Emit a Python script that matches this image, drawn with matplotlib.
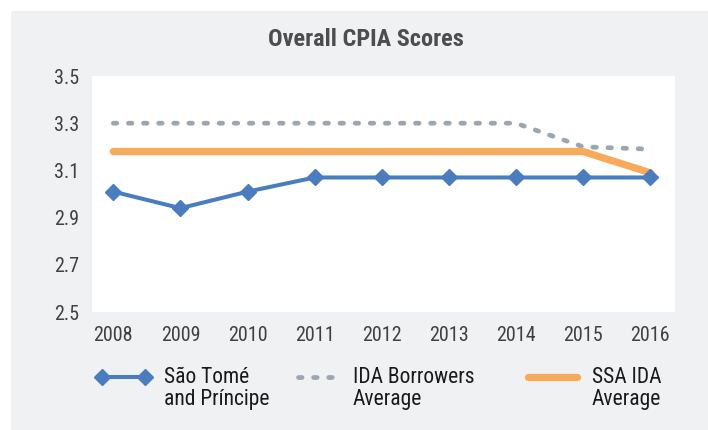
import matplotlib
matplotlib.use('Agg')
import matplotlib.pyplot as plt
from matplotlib.lines import Line2D
from matplotlib.patches import Rectangle

FONT = ['Roboto Condensed', 'Roboto', 'DejaVu Sans']
plt.rcParams['font.family'] = FONT

years = [2008, 2009, 2010, 2011, 2012, 2013, 2014, 2015, 2016]
stp = [3.01, 2.94, 3.01, 3.07, 3.07, 3.07, 3.07, 3.07, 3.07]
ida_borrowers = [3.30, 3.30, 3.30, 3.30, 3.30, 3.30, 3.30, 3.20, 3.19]
ssa_ida = [3.18, 3.18, 3.18, 3.18, 3.18, 3.18, 3.18, 3.18, 3.09]
yticks = [2.5, 2.7, 2.9, 3.1, 3.3, 3.5]

BLUE = '#4a7cc0'
GREY = '#9ba6b1'
ORANGE = '#f9a95a'
PANEL = '#f0f1f3'

W, H = 708, 430
fig = plt.figure(figsize=(W / 100, H / 100), dpi=100, facecolor='white')

# grey panel behind everything
fig.patches.append(Rectangle((11 / W, 0), 1 - 11 / W, 1 - 11 / H, transform=fig.transFigure,
                             facecolor=PANEL, edgecolor='none', zorder=-10))

ax = fig.add_axes([91.7 / W, 1 - 312 / H, (675 - 91.7) / W, (312 - 76) / H])
ax.set_facecolor('white')

ax.plot(years, ida_borrowers, color=GREY, lw=3.4, linestyle=(0, (0.75, 2.45)),
        dash_capstyle='round', zorder=2)
ax.plot(years, ssa_ida, color=ORANGE, lw=5.2, solid_capstyle='round', zorder=3)
ax.plot(years, stp, color=BLUE, lw=2.9, marker='D', markersize=7.8, zorder=4)

ax.set_xlim(2007.678, 2016.37)
ax.set_ylim(2.5, 3.5)
ax.set_xticks(years)
ax.set_yticks(yticks)
ax.set_yticklabels([f'{v:.1f}' for v in yticks])
ax.tick_params(length=0, labelsize=14.5, labelcolor='#404040')
ax.tick_params(axis='x', pad=10)
ax.tick_params(axis='y', pad=9)
for s in ax.spines.values():
    s.set_visible(False)

fig.text(366 / W, 1 - 39 / H, 'Overall CPIA Scores', ha='center', va='center',
         fontsize=17.5, fontweight='bold', color='#4d4d4d')

# legend, laid out like the original (keys on first text line)
ly = 1 - 377 / H
fig.add_artist(Line2D([101.5 / W, 144.5 / W], [ly, ly], color=BLUE, lw=2.9,
                      marker='D', markersize=7.8, transform=fig.transFigure))
fig.add_artist(Line2D([297.5 / W, 334.5 / W], [ly, ly], color=GREY, lw=3.4,
                      linestyle=(0, (0.75, 2.45)), dash_capstyle='round',
                      transform=fig.transFigure))
fig.add_artist(Line2D([528 / W, 577 / W], [ly, ly], color=ORANGE, lw=5.2,
                      solid_capstyle='round', transform=fig.transFigure))

labels = ['São Tomé\nand Príncipe', 'IDA Borrowers\nAverage', 'SSA IDA\nAverage']
label_x = [164, 353, 592]
for x, lab in zip(label_x, labels):
    fig.text(x / W, 1 - 388.5 / H, lab, ha='left', va='center', fontsize=15.5,
             color='#1a1a1a', linespacing=1.1)

fig.savefig('out.png', dpi=100, facecolor=fig.get_facecolor())
